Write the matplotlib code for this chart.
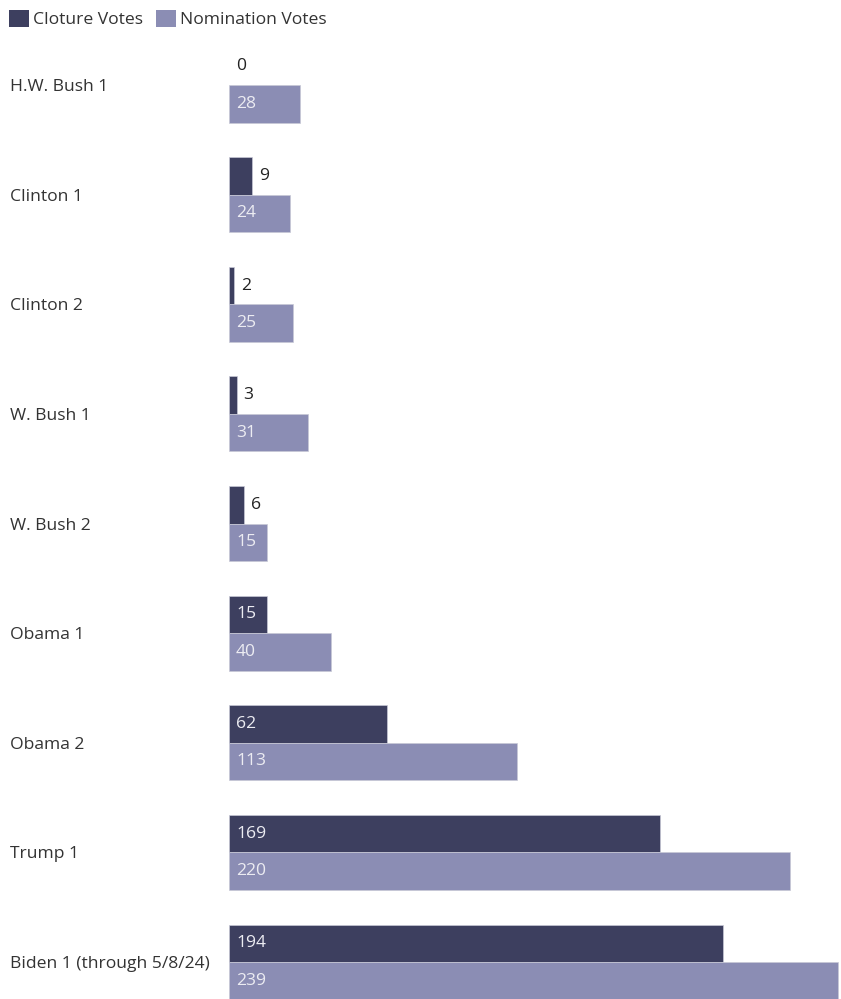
import matplotlib
matplotlib.use("Agg")
import matplotlib.pyplot as plt
from matplotlib.patches import Patch
import numpy as np

# Senate votes on judicial nominees, by presidential term
terms = ["H.W. Bush 1", "Clinton 1", "Clinton 2", "W. Bush 1", "W. Bush 2",
         "Obama 1", "Obama 2", "Trump 1", "Biden 1 (through 5/8/24)"]
cloture_votes = [0, 9, 2, 3, 6, 15, 62, 169, 194]
nomination_votes = [28, 24, 25, 31, 15, 40, 113, 220, 239]

CLOTURE_COLOR = "#3d3f5f"
NOMINATION_COLOR = "#8b8db4"
TEXT_COLOR = "#333333"
INSIDE_TEXT = "#ececf2"
FS = 12.6

plt.rcParams["font.family"] = ["Open Sans", "DejaVu Sans"]

fig = plt.figure(figsize=(8.41, 9.99), dpi=100)
ax = fig.add_axes([229 / 841, 0, 612 / 841, 1])

y = np.arange(len(terms))
bar_h = 0.342

ax.barh(y - bar_h / 2, cloture_votes, height=bar_h, color=CLOTURE_COLOR,
        edgecolor="#c8c9d6", linewidth=[0.5 if v else 0 for v in cloture_votes])
ax.barh(y + bar_h / 2, nomination_votes, height=bar_h, color=NOMINATION_COLOR,
        edgecolor="#c8c9d6", linewidth=0.5)


def label_bars(values, offset):
    for yi, v in zip(y, values):
        if v >= 10:
            ax.annotate(str(v), (0, yi + offset), xytext=(7, 0),
                        textcoords="offset pixels", va="center", ha="left",
                        fontsize=FS, color=INSIDE_TEXT)
        else:
            ax.annotate(str(v), (v, yi + offset), xytext=(7, 0),
                        textcoords="offset pixels", va="center", ha="left",
                        fontsize=FS, color="#222222")


label_bars(cloture_votes, -bar_h / 2)
label_bars(nomination_votes, bar_h / 2)

ax.set_xlim(0, 240.2)
ax.set_ylim(8.3376, -0.7755)
ax.set_xticks([])
ax.set_yticks(y)
ax.set_yticklabels(terms, fontsize=FS, color=TEXT_COLOR)
ax.tick_params(axis="y", length=0, pad=219 * 0.72)
for lbl in ax.get_yticklabels():
    lbl.set_horizontalalignment("left")
for s in ax.spines.values():
    s.set_visible(False)

handles = [Patch(facecolor=CLOTURE_COLOR, label="Cloture Votes"),
           Patch(facecolor=NOMINATION_COLOR, label="Nomination Votes")]
fig.legend(handles=handles, loc="upper left", bbox_to_anchor=(0.002, 0.997),
           ncol=2, frameon=False, fontsize=FS, handlelength=1.15,
           handleheight=1.1, handletextpad=0.22, columnspacing=0.75,
           borderaxespad=0, labelcolor=TEXT_COLOR)

fig.savefig("out.png", dpi=100)
